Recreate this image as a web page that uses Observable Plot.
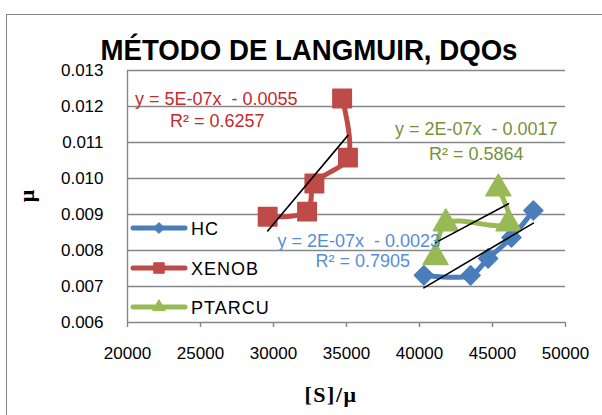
<!DOCTYPE html>
<html>
<head>
<meta charset="utf-8">
<script src="https://cdn.jsdelivr.net/npm/d3@7"></script>
<script src="https://cdn.jsdelivr.net/npm/@observablehq/plot@0.6"></script>
<style>
  body { margin: 0; background: #fff; }
  #wrap { position: relative; width: 602px; height: 415px; overflow: hidden; background: #fff; }
  #frame { position: absolute; left: 6px; top: 14px; width: 640px; height: 440px; border: 1.5px solid #868686; box-sizing: border-box; }
  #plot { position: absolute; left: 0; top: 0; }
  #overlay { position: absolute; left: 0; top: 0; pointer-events: none; }
</style>
</head>
<body>
<div id="wrap">
  <div id="frame"></div>
  <div id="plot"></div>
  <svg id="overlay" width="602" height="415"></svg>
</div>
<script>
// ---- data ----
const categories = ["HC", "XENOB", "PTARCU"];
const colors = ["#4A7EBB", "#BE4B48", "#98B954"];
const labelColors = ["#558ED5", "#C42B2B", "#76923C"];

const hcX = [40300, 43500, 44700, 46300, 47800];
const hcY = [0.00731, 0.00731, 0.00778, 0.00836, 0.00911];

const xenobX = [29600, 32300, 32800, 35100, 34700];
const xenobY = [0.00894, 0.00908, 0.00986, 0.01058, 0.01222];

const ptarcuX = [41100, 41800, 46100, 45400];
const ptarcuY = [0.00781, 0.00875, 0.00875, 0.00972];

const xTicks = [20000, 25000, 30000, 35000, 40000, 45000, 50000];
const yTicks = [0.006, 0.007, 0.008, 0.009, 0.010, 0.011, 0.012, 0.013];

const equations = ["y = 2E-07x  - 0.0023", "y = 5E-07x  - 0.0055", "y = 2E-07x  - 0.0017"];
const r2Labels = ["R² = 0.7905", "R² = 0.6257", "R² = 0.5864"];

const title = "MÉTODO DE LANGMUIR, DQOs";
const xLabel = "[S]/μ";
const yLabel = "μ";

// ---- build table ----
const xs = [hcX, xenobX, ptarcuX];
const ys = [hcY, xenobY, ptarcuY];
const rows = [];
categories.forEach((c, i) => xs[i].forEach((x, j) => rows.push({series: c, x, y: ys[i][j], order: j})));
const bySeries = c => rows.filter(d => d.series === c);

// rotated-square (Excel diamond) symbol
const diamond = {
  draw(ctx, size) {
    const r = Math.sqrt(size / 2);
    ctx.moveTo(0, -r); ctx.lineTo(r, 0); ctx.lineTo(0, r); ctx.lineTo(-r, 0); ctx.closePath();
  }
};
const symbols = [diamond, "square", "triangle"];
const radii = [7.6, 10.4, 9.2];

const marks = [
  Plot.ruleY(yTicks, {stroke: "#868686", strokeWidth: 1.4}),
  Plot.ruleX([20000], {stroke: "#868686", strokeWidth: 1.4})
];
categories.forEach((c, i) => {
  marks.push(Plot.line(bySeries(c), {x: "x", y: "y", stroke: colors[i], strokeWidth: 5, curve: "catmull-rom", strokeLinejoin: "round", strokeLinecap: "round"}));
  marks.push(Plot.dot(bySeries(c), {x: "x", y: "y", symbol: symbols[i], r: radii[i], fill: colors[i], stroke: colors[i], strokeWidth: 1.5, strokeLinejoin: "round"}));
});
categories.forEach((c, i) => {
  marks.push(Plot.linearRegressionY(bySeries(c), {x: "x", y: "y", stroke: "#000", strokeWidth: 1.6, ci: 0}));
});

const chart = Plot.plot({
  width: 602,
  height: 415,
  marginLeft: 127,
  marginRight: 37,
  marginTop: 70,
  marginBottom: 93,
  style: {fontFamily: "'Liberation Sans', Arial, sans-serif", fontSize: "17px", color: "#000", background: "transparent", overflow: "visible"},
  x: {domain: [20000, 50000], ticks: xTicks, tickFormat: d3.format("d"), tickSize: 5, tickPadding: 19, label: null},
  y: {domain: [0.006, 0.013], ticks: yTicks, tickFormat: d3.format(".3f"), tickSize: 0, tickPadding: 24, label: null},
  marks
});
document.getElementById("plot").appendChild(chart);
d3.select(chart).selectAll('[aria-label="x-axis tick"]').attr("stroke", "#868686").attr("stroke-width", 1.4);

// ---- overlay: title, axis titles, equations, legend ----
const ov = d3.select("#overlay");
ov.append("text").attr("x", 309).attr("y", 60).attr("text-anchor", "middle")
  .attr("font-family", "'Liberation Sans', Arial, sans-serif").attr("font-weight", "bold").attr("font-size", 30)
  .attr("textLength", 417).attr("lengthAdjust", "spacingAndGlyphs").text(title);
ov.append("text").attr("transform", "translate(34,196) rotate(-90)").attr("text-anchor", "middle")
  .attr("font-family", "'Liberation Serif', 'Times New Roman', serif").attr("font-weight", "bold").attr("font-size", 22).text(yLabel);
ov.append("text").attr("x", 331).attr("y", 402).attr("text-anchor", "middle").attr("letter-spacing", 1.5)
  .attr("font-family", "'Liberation Serif', 'Times New Roman', serif").attr("font-weight", "bold").attr("font-size", 22).text(xLabel);

const eqFont = "'Liberation Sans', Arial, sans-serif";
const eqPos = [
  {x1: 440, y1: 247, x2: 410, y2: 267, anchor: "end"},
  {x1: 135, y1: 104.5, x2: 170, y2: 126.5, anchor: "start"},
  {x1: 395, y1: 134.5, x2: 429, y2: 159.5, anchor: "start"}
];
categories.forEach((c, i) => {
  const p = eqPos[i];
  ov.append("text").attr("x", p.x1).attr("y", p.y1).attr("text-anchor", p.anchor).attr("font-family", eqFont)
    .attr("font-size", 18).attr("fill", labelColors[i]).attr("xml:space", "preserve").style("white-space", "pre").text(equations[i]);
  ov.append("text").attr("x", p.x2).attr("y", p.y2).attr("text-anchor", p.anchor).attr("font-family", eqFont)
    .attr("font-size", 18).attr("fill", labelColors[i]).text(r2Labels[i]);
});

const legY = [228, 268, 307];
categories.forEach((c, i) => {
  const g = ov.append("g").attr("transform", `translate(0,${legY[i]})`);
  g.append("line").attr("x1", 133).attr("x2", 185).attr("y1", 0).attr("y2", 0)
    .attr("stroke", colors[i]).attr("stroke-width", 5).attr("stroke-linecap", "round");
  const sym = i === 0 ? diamond : (i === 1 ? d3.symbolSquare : d3.symbolTriangle);
  const size = i === 0 ? 60 : (i === 1 ? 110 : 70);
  g.append("path").attr("transform", "translate(159,0)").attr("d", d3.symbol(sym, size)())
    .attr("fill", colors[i]).attr("stroke", colors[i]).attr("stroke-width", 1).attr("stroke-linejoin", "round");
  g.append("text").attr("x", 191).attr("y", 6.5).attr("font-family", eqFont).attr("font-size", 18)
    .attr("letter-spacing", 1).text(c);
});
</script>
</body>
</html>
